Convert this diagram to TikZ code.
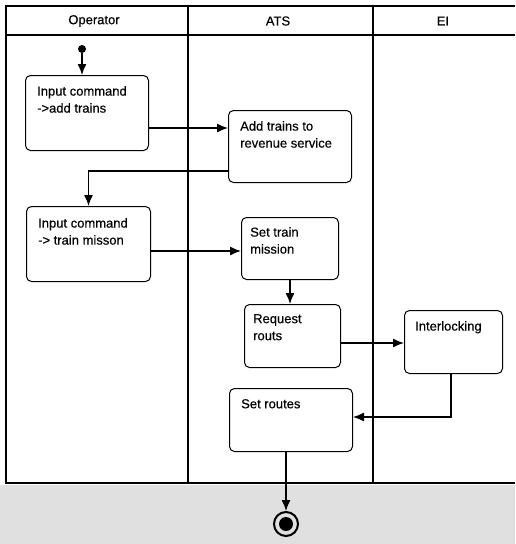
\documentclass[tikz,border=0pt]{standalone}
\usepackage{fontspec}
\setmainfont[FakeBold=0.4]{Liberation Sans}
\usetikzlibrary{arrows.meta}
\begin{document}
\begin{tikzpicture}[x=1pt,y=-1pt,
  frame/.style={line width=2pt},
  actbox/.style={draw, line width=1pt, rounded corners=5pt, inner sep=0, anchor=north west},
  lbl/.style={inner sep=0, anchor=north west, align=left, font=\fontsize{13}{17}\selectfont},
  hdr/.style={font=\fontsize{13}{15}\selectfont},
  arr/.style={line width=1.3pt, -{Latex[length=11pt,width=9pt]}},
  ln/.style={line width=1.3pt}]
\useasboundingbox (0,0) rectangle (515,544);
\fill[black!12] (0,485) rectangle (515,544);
% frame
\draw[frame] (515,6) -- (6,6) -- (6,483) -- (515,483);
\draw[frame] (6,35) -- (515,35);
\draw[frame] (188,6) -- (188,483);
\draw[frame] (373,6) -- (373,483);
% headers
\node[hdr] (h1) at (94,21) {Operator};
\node[hdr] (h2) at (278,21) {ATS};
\node[hdr] (h3) at (443,21) {EI};
% boxes
\node[actbox, minimum width=123pt, minimum height=75pt] (n1) at (25,75) {};
\node[actbox, minimum width=123pt, minimum height=72pt] (n2) at (228,110) {};
\node[actbox, minimum width=124pt, minimum height=75pt] (n3) at (26,206) {};
\node[actbox, minimum width=97pt, minimum height=62pt] (n4) at (241,217) {};
\node[actbox, minimum width=96pt, minimum height=63pt] (n5) at (244,304) {};
\node[actbox, minimum width=98pt, minimum height=63pt] (n6) at (404,310) {};
\node[actbox, minimum width=123pt, minimum height=63pt] (n7) at (229,388) {};
% labels
\node[lbl] (t1) at ([shift={(12,11)}]n1.north west) {Input command\\->add trains};
\node[lbl] (t2) at ([shift={(12,11)}]n2.north west) {Add trains to\\revenue service};
\node[lbl] (t3) at ([shift={(12,12)}]n3.north west) {Input command\\-> train misson};
\node[lbl] (t4) at ([shift={(9,10)}]n4.north west) {Set train\\mission};
\node[lbl] (t5) at ([shift={(9,10)}]n5.north west) {Request\\routs};
\node[lbl] (t6) at ([shift={(11,11)}]n6.north west) {Interlocking};
\node[lbl] (t7) at ([shift={(12,11)}]n7.north west) {Set routes};
% start / end
\node[circle, fill, inner sep=0, minimum size=8pt] (st) at (82,49) {};
\node[circle, draw, line width=2pt, minimum size=24pt, inner sep=0] (en) at (286,524) {};
\node[circle, fill, inner sep=0, minimum size=14pt] (enin) at (en) {};
% connectors
\draw[arr] (st) -- (st |- n1.north);
\draw[arr] (n1.east |- 0,128) -- (n2.west |- 0,128);
\draw[arr] (n2.west |- 0,171) -| (n3.north);
\draw[arr] (n3.east |- 0,251) -- (n4.west |- 0,251);
\draw[arr] (n4.south) -- (n4.south |- n5.north);
\draw[arr] (n5.east |- 0,343) -- (n6.west |- 0,343);
\draw[arr] (n6.south -| 451,0) |- (n7.east |- 0,417);
\draw[arr] (en |- n7.south) -- (en.north);
\end{tikzpicture}
\end{document}
